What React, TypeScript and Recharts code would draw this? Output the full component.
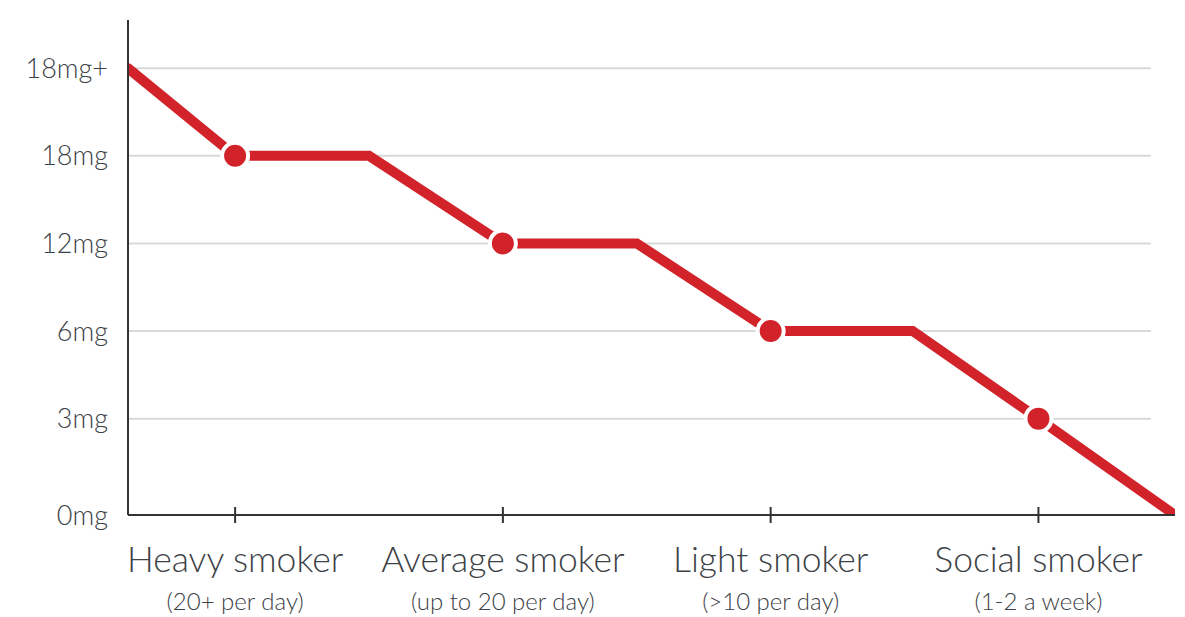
import { LineChart, Line, XAxis, YAxis, ReferenceLine } from 'recharts'

// ─── Data ────────────────────────────────────────────────────────────

const categories = ['Heavy smoker', 'Average smoker', 'Light smoker', 'Social smoker']
const subtitles = ['(20+ per day)', '(up to 20 per day)', '(>10 per day)', '(1-2 a week)']
const categoryX = [1, 2, 3, 4]

const yLabels = ['0mg', '3mg', '6mg', '12mg', '18mg', '18mg+']
const yLevels = [0, 1.1, 2.1, 3.1, 4.1, 5.1]

// path of the line: x in category units, y as index into yLevels
const pathX = [0.6, 1, 1.5, 2, 2.5, 3, 3.53, 4, 4.51]
const pathLevel = [5, 4, 4, 3, 3, 2, 2, 1, 0]

const gridEnd = 4.42

const chartData = pathX.map((x, i) => ({ x, y: yLevels[pathLevel[i]] }))

// ─── Styles ──────────────────────────────────────────────────────────

const red = '#d2232a'
const textColor = '#3c4146'
const axisColor = '#333'
const gridColor = '#d9d9d9'
const font = 'Lato, sans-serif'

function XTick(props: any) {
    const { x, y, payload } = props
    const idx = categoryX.indexOf(payload.value)
    return (
        <g>
            <line x1={x} x2={x} y1={y - 8} y2={y + 8} stroke={axisColor} strokeWidth={2} />
            <text x={x} y={y + 57} textAnchor="middle" fill={textColor} fontSize={35.5} fontWeight={300} fontFamily={font}>
                {categories[idx]}
            </text>
            <text x={x} y={y + 95} textAnchor="middle" fill={textColor} fontSize={24} fontWeight={300} fontFamily={font}>
                {subtitles[idx]}
            </text>
        </g>
    )
}

function Dot(props: any) {
    const { cx, cy, payload } = props
    if (!categoryX.includes(payload.x)) return <g key={`d${payload.x}`} />
    return <circle key={`d${payload.x}`} cx={cx} cy={cy} r={13} fill={red} stroke="#fff" strokeWidth={4} />
}

// ─── Component ───────────────────────────────────────────────────────

export default function App() {
    return (
        <div style={{ position: 'absolute', left: 0, top: 0, width: 1185, height: 617, background: '#fff' }}>
            <LineChart width={1185} height={617} data={chartData} margin={{ top: 20, right: 10, left: 0, bottom: 0 }}>
                <XAxis
                    dataKey="x"
                    type="number"
                    domain={[0.6, 4.51]}
                    ticks={categoryX}
                    allowDataOverflow
                    height={102}
                    tickLine={false}
                    tickSize={0}
                    tickMargin={0}
                    axisLine={{ stroke: axisColor, strokeWidth: 2 }}
                    tick={<XTick />}
                    interval={0}
                />
                <YAxis
                    dataKey="y"
                    type="number"
                    domain={[0, 5.65]}
                    ticks={yLevels}
                    allowDataOverflow
                    width={128}
                    tickLine={false}
                    tickSize={0}
                    tickMargin={20}
                    axisLine={{ stroke: axisColor, strokeWidth: 2 }}
                    tick={{ fill: textColor, fontSize: 27, fontWeight: 300, fontFamily: font }}
                    tickFormatter={(v: number) => yLabels[yLevels.indexOf(v)] ?? ''}
                    interval={0}
                />
                {yLevels.slice(1).map((lvl) => (
                    <ReferenceLine
                        key={lvl}
                        segment={[{ x: 0.6, y: lvl }, { x: gridEnd, y: lvl }]}
                        stroke={gridColor}
                        strokeWidth={2}
                    />
                ))}
                <Line
                    type="linear"
                    dataKey="y"
                    stroke={red}
                    strokeWidth={10}
                    strokeLinecap="round"
                    dot={<Dot />}
                    activeDot={false}
                    isAnimationActive={false}
                />
            </LineChart>
        </div>
    )
}
